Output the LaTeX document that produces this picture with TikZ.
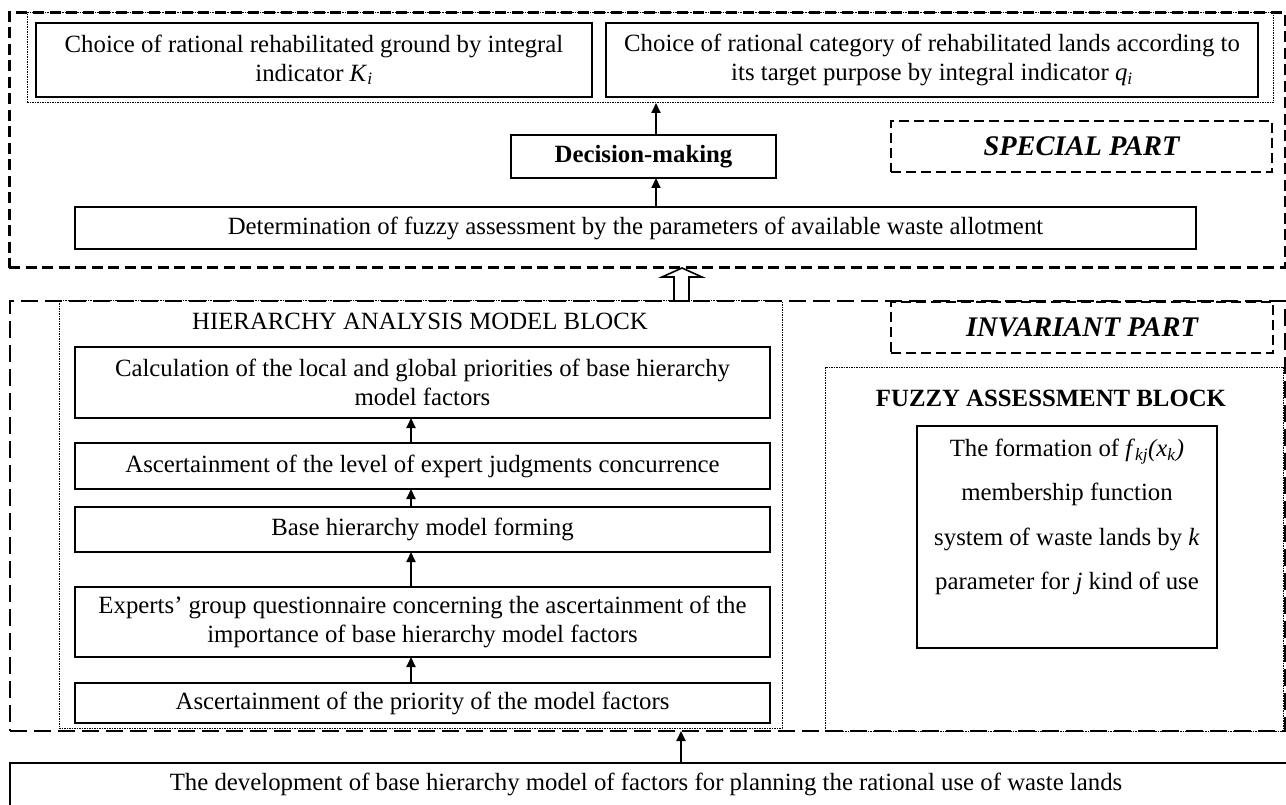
\documentclass[tikz,border=0pt]{standalone}
\usepackage{fontspec}
\setmainfont{Liberation Serif}
\usetikzlibrary{arrows.meta}
\begin{document}
\begin{tikzpicture}[x=1pt,y=-1pt,
  every node/.style={font=\fontsize{24.8}{28.5}\selectfont, inner sep=0pt, outer sep=0pt},
  sbox/.style={draw, line width=1.8pt, anchor=north west, align=center},
  spdash/.style={draw, line width=3pt, dash pattern=on 11pt off 5.5pt, anchor=north west},
  invdash/.style={draw, line width=2.8pt, dash pattern=on 17pt off 7pt, anchor=north west},
  labdash/.style={draw, line width=2.6pt, dash pattern=on 10pt off 5pt, anchor=north west, font=\fontsize{28.4}{32}\selectfont\bfseries\itshape},
  dotbox/.style={draw, line width=1pt, dash pattern=on 1.5pt off 1pt, anchor=north west},
  arr/.style={line width=1.8pt, -{Triangle[length=10pt,width=9pt]}},
  hollow/.style={line width=1.6pt, fill=white, line join=miter},
]
\useasboundingbox (0,0) rectangle (1286,805);
\clip (0,0) rectangle (1286,805);

% ---- special part ----
\node[spdash, minimum width=1276pt, minimum height=255pt] (spec) at (9,13) {};
\node[dotbox, minimum width=1246pt, minimum height=90pt] (topgrp) at (27,13) {};
\node[sbox, minimum width=556pt, minimum height=74pt] (k) at (36,23)
  {Choice of rational rehabilitated ground by integral\\indicator \textit{K}\textsubscript{\textit{i}}};
\node[sbox, minimum width=652pt, minimum height=74pt] (q) at (606,23)
  {Choice of rational category of rehabilitated lands according to\\its target purpose by integral indicator \textit{q}\textsubscript{\textit{i}}};
\node[sbox, minimum width=265pt, minimum height=43pt, font=\fontsize{24.8}{28.5}\selectfont\bfseries] (dec) at (511,135) {Decision-making};
\node[labdash, minimum width=381pt, minimum height=51pt] (specp) at (891,121) {SPECIAL PART};
\node[sbox, minimum width=1121pt, minimum height=42pt] (det) at (75,207)
  {Determination of fuzzy assessment by the parameters of available waste allotment};

% ---- invariant part ----
\node[invdash, minimum width=1275pt, minimum height=430pt] (inv) at (10,301) {};
\node[dotbox, minimum width=723pt, minimum height=427pt] (hier) at (59,301) {};
\node (hiert) at (420,321) {HIERARCHY ANALYSIS MODEL BLOCK};
\node[sbox, minimum width=695pt, minimum height=71pt] (calc) at (75,347)
  {Calculation of the local and global priorities of base hierarchy\\model factors};
\node[sbox, minimum width=695pt, minimum height=46pt] (asc) at (75,443)
  {Ascertainment of the level of expert judgments concurrence};
\node[sbox, minimum width=695pt, minimum height=45pt] (base) at (75,507)
  {Base hierarchy model forming};
\node[sbox, minimum width=695pt, minimum height=70pt] (exp) at (75,587)
  {Experts’ group questionnaire concerning the ascertainment of the\\importance of base hierarchy model factors};
\node[sbox, minimum width=695pt, minimum height=40pt] (prio) at (75,683)
  {Ascertainment of the priority of the model factors};

\node[labdash, minimum width=382pt, minimum height=51pt] (invp) at (891,302) {INVARIANT PART};
\node[dotbox, minimum width=458pt, minimum height=364pt] (fzo) at (825,367) {};
\node[font=\fontsize{24.8}{28.5}\selectfont\bfseries] (fzt) at (1051,398) {FUZZY ASSESSMENT BLOCK};
\node[sbox, minimum width=300pt, minimum height=222pt] (fzi) at (917,426) {};
\node[anchor=north, align=center, font=\fontsize{24.8}{44.5}\selectfont] (fztext) at (1067,439)
  {The formation of \textit{f}\textsubscript{\textit{kj}}\textit{(x}\textsubscript{\textit{k}}\textit{)}\\
   membership function\\
   system of waste lands by \textit{k}\\
   parameter for \textit{j} kind of use};

% ---- bottom ----
\node[sbox, minimum width=1282pt, minimum height=47pt] (dev) at (10,763) {};
\node (devt) at (646,784) {The development of base hierarchy model of factors for planning the rational use of waste lands};

% ---- connectors ----
\coordinate (ax) at (656,0);
\coordinate (hx) at (411,0);
\coordinate (bx) at (681,0);
\coordinate (hw) at (682,0);
\draw[arr] (det.north -| ax) -- (dec.south -| ax);
\draw[arr] (dec.north -| ax) -- (topgrp.south -| ax);
\draw[arr] (prio.north -| hx) -- (exp.south -| hx);
\draw[arr] (exp.north -| hx) -- (base.south -| hx);
\draw[arr] (base.north -| hx) -- (asc.south -| hx);
\draw[arr] (asc.north -| hx) -- (calc.south -| hx);
\draw[arr] (dev.north -| bx) -- (inv.south -| bx);
\draw[hollow] (spec.south -| hw) -- ++(20,9) -- ++(-13,0) -- ++(0,24) -- ++(-15,0) -- ++(0,-24) -- ++(-12,0) -- cycle;
\end{tikzpicture}
\end{document}
